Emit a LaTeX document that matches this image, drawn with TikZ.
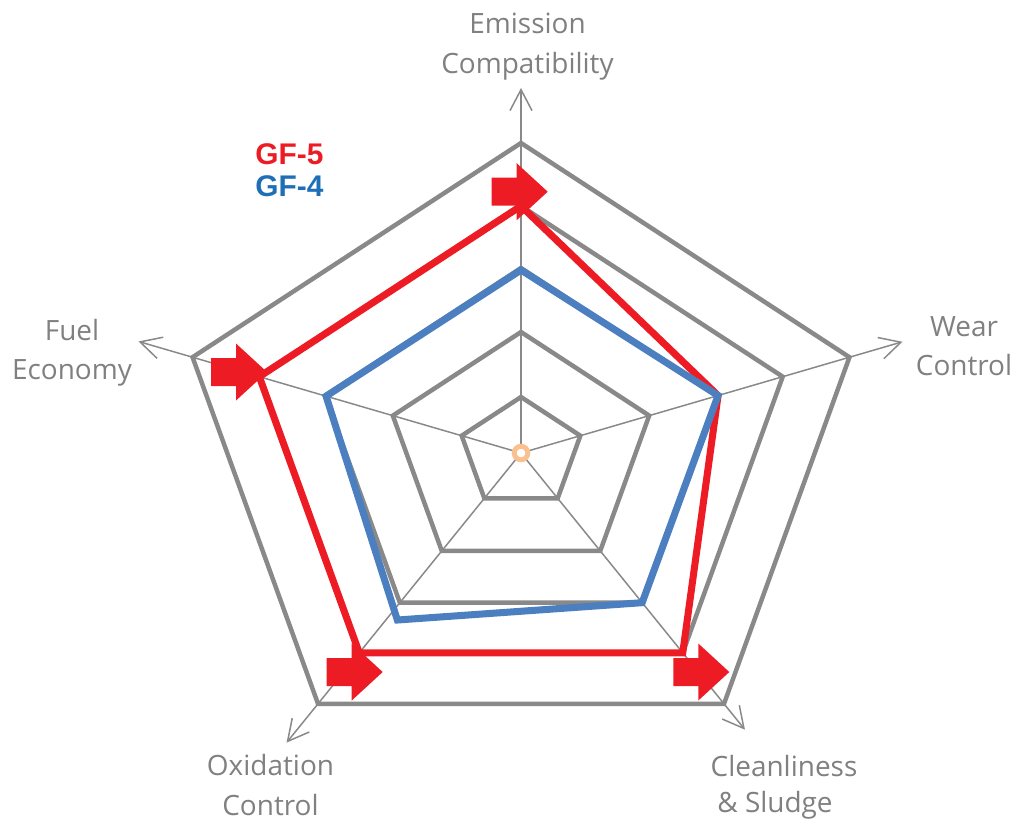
\documentclass[tikz,border=0pt]{standalone}
\usepackage{fontspec}
\setmainfont{Open Sans}
\newfontfamily\gffont{Liberation Sans}
\usetikzlibrary{arrows.meta}
\definecolor{gridgray}{RGB}{137,137,137}
\definecolor{textgray}{RGB}{128,128,128}
\definecolor{gfred}{RGB}{237,28,36}
\definecolor{gfblue}{RGB}{76,127,192}
\definecolor{gfdarkblue}{RGB}{30,111,181}
\definecolor{hubcol}{RGB}{250,192,143}
\tikzset{
  ring/.style={draw=gridgray, line width=2.55pt, line join=miter},
  axis/.style={draw=gridgray, line width=0.85pt, -{Straight Barb[length=4.2mm, width=4.4mm]}},
  axislabel/.style={text=textgray, align=center, inner sep=0pt, font=\fontsize{15.9}{22.5}\selectfont},
  series/.style={line width=4pt, line join=miter},
  gflabel/.style={anchor=base west, inner sep=0pt, font=\gffont\bfseries\fontsize{17}{20}\selectfont},
  gfarrow/.pic={\fill[gfred] (0,-14) -- (25,-14) -- (25,-28.5) -- (56,0) -- (25,28.5) -- (25,14) -- (0,14) -- cycle;}
}
\begin{document}
\begin{tikzpicture}[x=0.02cm, y=-0.02cm]
  \useasboundingbox (0,0) rectangle (1016,823);
  \begin{scope}[shift={(521,453)}, xscale=1.114, yscale=-1]
    \coordinate (c) at (0,0);
    \foreach \r in {56,121,185,247,310}
      \draw[ring] (90:\r) -- (18:\r) -- (-54:\r) -- (-126:\r) -- (162:\r) -- cycle;
    \coordinate (emission) at (90:365);
    \coordinate (wear) at (18:360);
    \coordinate (clean) at (-54:342);
    \coordinate (oxid) at (-126:358);
    \coordinate (fuel) at (162:361);
    \foreach \a in {emission,wear,clean,oxid,fuel}
      \draw[axis] (c) -- (\a);
    \draw[series, gfred] (90:247) -- (18:186) -- (-54:247) -- (-126:247) -- (162:247) -- cycle;
    \draw[series, gfblue] (90:183) -- (18:186) -- (-54:185) -- (-111,-167) -- (162:184) -- cycle;
  \end{scope}
  \draw[hubcol, fill=white, line width=2.8pt] (c) circle[radius=6.8];

  \pic at (491.7,191.7) {gfarrow};
  \pic at (211,372) {gfarrow};
  \pic at (326.7,672) {gfarrow};
  \pic at (673.3,672) {gfarrow};

  \node[gflabel, text=gfred] (gf5) at (255,164.3) {GF-5};
  \node[gflabel, text=gfdarkblue] (gf4) at (255,196.7) {GF-4};

  \node[axislabel] (emissionlabel) at (527.5,46.5) {Emission\\Compatibility};
  \node[axislabel] (wearlabel) at (964,346.3) {Wear\\Control};
  \node[axislabel] (fuellabel) at (72,352.5) {Fuel\\Economy};
  \node[axislabel] (oxidlabel) at (270.5,785) {Oxidation\\Control};
  \node[axislabel] (cleanlabel) at (784,787) {Cleanliness\\[-2pt]\& Sludge\hspace*{0.36cm}};
\end{tikzpicture}
\end{document}
